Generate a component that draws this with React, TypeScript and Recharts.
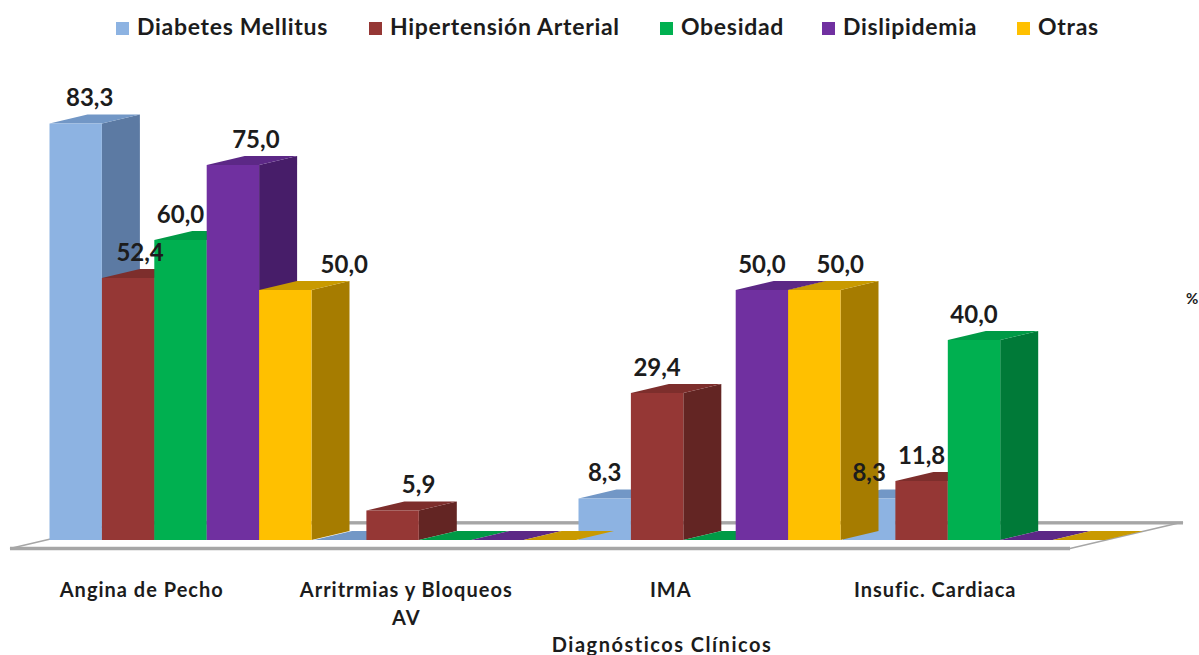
import React from 'react';
import { BarChart, Bar, XAxis, YAxis, Legend, LabelList } from 'recharts';

const categories = ['Angina de Pecho', 'Arritrmias y Bloqueos AV', 'IMA', 'Insufic. Cardiaca'];
const diabetes = [83.3, 0, 8.3, 8.3];
const hipertension = [52.4, 5.9, 29.4, 11.8];
const obesidad = [60, 0, 0, 40];
const dislipidemia = [75, 0, 50, 0];
const otras = [50, 0, 50, 0];

const chartData = categories.map((name, i) => ({
  name,
  diabetes: diabetes[i],
  hipertension: hipertension[i],
  obesidad: obesidad[i],
  dislipidemia: dislipidemia[i],
  otras: otras[i],
}));

const series = [
  { key: 'diabetes', name: 'Diabetes Mellitus', front: '#8db3e2', side: '#5c7aa3', top: '#7297c6' },
  { key: 'hipertension', name: 'Hipertensión Arterial', front: '#953735', side: '#632523', top: '#7d2e2c' },
  { key: 'obesidad', name: 'Obesidad', front: '#00b050', side: '#007a38', top: '#009a46' },
  { key: 'dislipidemia', name: 'Dislipidemia', front: '#7030a0', side: '#471d69', top: '#5c2886' },
  { key: 'otras', name: 'Otras', front: '#ffc000', side: '#a67c00', top: '#c99a00' },
];

const FONT = 'Lato, sans-serif';
const TEXT_COLOR = '#1c1c1c';
// depth of the fake 3D boxes
const DX = 38;
const DY = 9;

// the labels in the original were dragged by hand, so some sit off centre
const labelNudge: Record<string, number> = {
  'diabetes-0': 14,
  'hipertension-0': 12,
  'dislipidemia-0': 23,
  'otras-0': 59,
  'hipertension-1': 26,
  'otras-2': 26,
};

const legendLeft = [116, 369, 660, 822, 1017];

const wrapLabel = (label: string, maxChars: number) => {
  const lines: string[] = [];
  label.split(' ').forEach(word => {
    const last = lines[lines.length - 1];
    if (last !== undefined && (last + ' ' + word).length <= maxChars) lines[lines.length - 1] = last + ' ' + word;
    else lines.push(word);
  });
  return lines;
};

const Box3D = (props: any) => {
  const { x, y, width, height, front, side, top } = props;
  const right = x + width;
  const base = y + height;
  return (
    <g>
      <polygon points={`${right},${y} ${right + DX},${y - DY} ${right + DX},${base - DY} ${right},${base}`} fill={side} />
      <polygon points={`${x},${y} ${x + DX},${y - DY} ${right + DX},${y - DY} ${right},${y}`} fill={top} />
      {height > 0 && <rect x={x} y={y} width={width} height={height} fill={front} />}
    </g>
  );
};

const CategoryTick = (props: any) => {
  const { x, y, payload } = props;
  return (
    <text textAnchor="middle" fontFamily={FONT} fontWeight={700} fontSize={20} letterSpacing={1} fill={TEXT_COLOR}>
      {wrapLabel(payload.value, 22).map((line, i) => (
        <tspan key={line} x={x - 39} y={y + 15 + i * 28}>
          {line}
        </tspan>
      ))}
    </text>
  );
};

const renderValueLabel = (seriesKey: string) => (props: any) => {
  const { x, y, width, value, index } = props;
  if (!value) return null;
  const nudge = labelNudge[`${seriesKey}-${index}`] || 0;
  return (
    <text
      x={x + width / 2 + nudge}
      y={y - 27}
      textAnchor="middle"
      dominantBaseline="central"
      fontFamily={FONT}
      fontWeight={700}
      fontSize={24}
      fill={TEXT_COLOR}
    >
      {value.toFixed(1).replace('.', ',')}
    </text>
  );
};

const TopLegend = ({ payload }: any) => (
  <div style={{ position: 'relative', height: 40, fontFamily: FONT, fontWeight: 700, fontSize: 23, letterSpacing: 0.7, color: TEXT_COLOR }}>
    {(payload || []).map((entry: any, i: number) => (
      <div key={entry.value} style={{ position: 'absolute', left: legendLeft[i], top: 11, whiteSpace: 'nowrap', lineHeight: '30px' }}>
        <span style={{ display: 'inline-block', width: 13, height: 13, background: entry.color, marginRight: 8 }} />
        {entry.value}
      </div>
    ))}
  </div>
);

export default function App() {
  return (
    <div style={{ width: 1199, height: 655, background: '#fff', overflow: 'hidden' }}>
      <style>{'body { margin: 0; }'}</style>
      <BarChart
        width={1199}
        height={655}
        data={chartData}
        margin={{ top: 0, right: 92.5, bottom: 85, left: 48.5 }}
        barSize={52.4}
        barGap={0}
      >
        {/* floor of the 3D plot */}
        <polygon points="10,548.5 1070,548.5 1183,522 123,522" fill="#fff" stroke="#a6a6a6" strokeWidth={1.5} />
        <line x1={10} y1={548.5} x2={1070} y2={548.5} stroke="#a6a6a6" strokeWidth={3.5} />
        <line x1={123} y1={523} x2={1183} y2={523} stroke="#a6a6a6" strokeWidth={3} />
        <XAxis dataKey="name" axisLine={false} tickLine={false} tick={<CategoryTick />} tickMargin={36} interval={0} />
        <YAxis hide domain={[0, 100]} />
        <Legend verticalAlign="top" itemSorter={null} content={<TopLegend />} wrapperStyle={{ top: 0, left: 0, width: 1199 }} />
        {series.map(s => (
          <Bar
            key={s.key}
            dataKey={s.key}
            name={s.name}
            fill={s.front}
            isAnimationActive={false}
            shape={(p: any) => <Box3D {...p} front={s.front} side={s.side} top={s.top} />}
          >
            <LabelList dataKey={s.key} content={renderValueLabel(s.key)} />
          </Bar>
        ))}
        <text x={662} y={644} textAnchor="middle" dominantBaseline="central" fontFamily={FONT} fontWeight={700} fontSize={20} letterSpacing={1.5} fill={TEXT_COLOR}>
          Diagnósticos Clínicos
        </text>
        <text x={1186} y={298} dominantBaseline="central" fontFamily={FONT} fontWeight={700} fontSize={15} fill={TEXT_COLOR}>
          %
        </text>
      </BarChart>
    </div>
  );
}
